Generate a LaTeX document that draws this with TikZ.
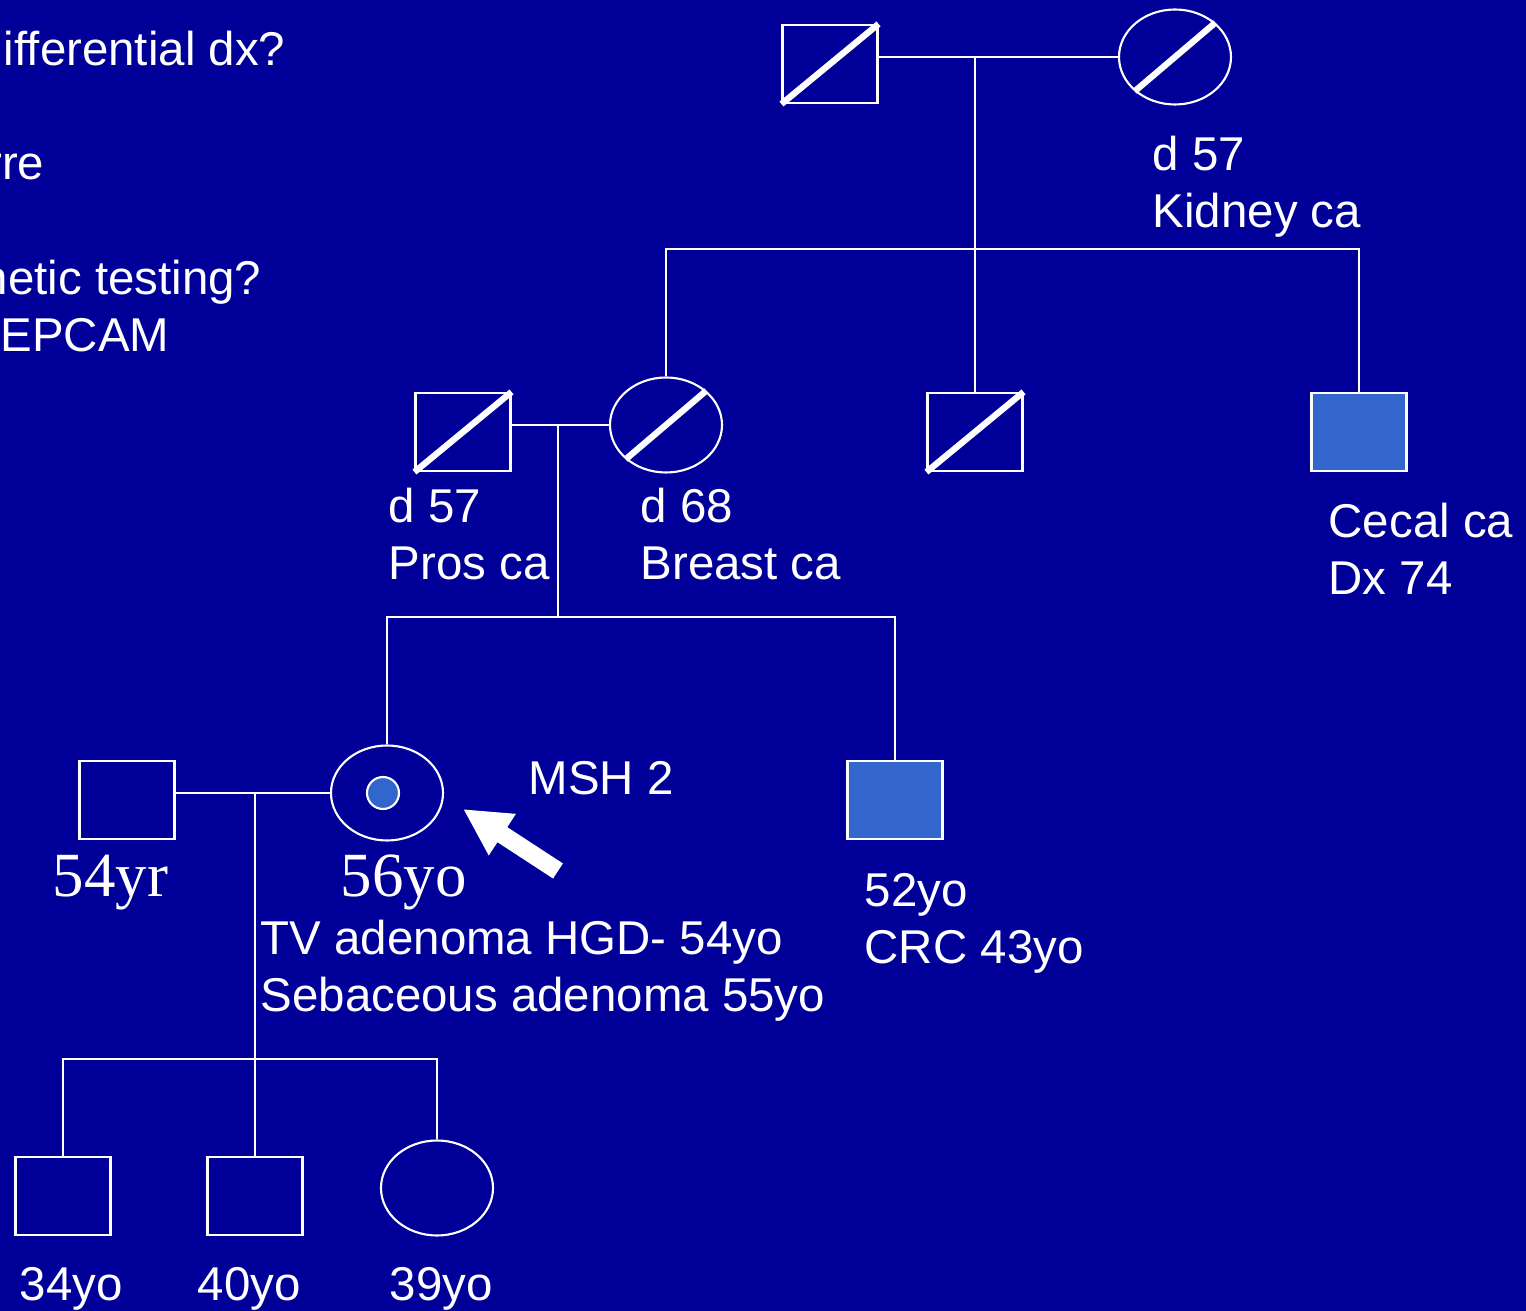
\documentclass[tikz,border=0pt]{standalone}
\usepackage{fontspec}
\setmainfont{Liberation Sans}
\newfontfamily\agefont{Liberation Serif}
\usetikzlibrary{arrows.meta,shapes.geometric}
\definecolor{bgblue}{RGB}{0,0,153}
\definecolor{affected}{RGB}{51,102,204}

\tikzset{
  male/.style={draw=white, line width=0.6pt, rectangle, minimum width=0.95cm, minimum height=0.78cm, inner sep=0pt},
  female/.style={draw=white, line width=0.6pt, ellipse, minimum width=1.12cm, minimum height=0.95cm, inner sep=0pt},
  sick/.style={fill=affected},
  dead/.style={white, line width=1.8pt},
  link/.style={white, line width=0.6pt},
  lbl/.style={text=white, font=\fontsize{13.5}{16.5}\selectfont, align=left, inner sep=0pt},
  agelbl/.style={text=white, font=\agefont\fontsize{17.9}{20}\selectfont, inner sep=0pt}
}

\begin{document}
\begin{tikzpicture}
    % Background
    \useasboundingbox (0,0) rectangle (15.26,-13.11);
    \fill[bgblue] (0,0) rectangle (15.26,-13.11);
    \clip (0,0) rectangle (15.26,-13.11);

    % Questions (cut at the left edge)
    \node[lbl, anchor=base east] (q1) at (2.86,-0.66) {ifferential dx?};
    \node[lbl, anchor=base east] (q2) at (0.45,-1.80) {rre};
    \node[lbl, anchor=base east] (q3) at (2.62,-2.95) {netic testing?};
    \node[lbl, anchor=base west] (q4) at (0.00,-3.52) {EPCAM};

    % Grandparents
    \node[male] (gf) at (8.30,-0.64) {};
    \node[female] (gm) at (11.75,-0.57) {};
    \draw[dead] (gf.south west) -- (gf.north east);
    \draw[dead] (gm.south west) -- (gm.north east);
    \coordinate (m1) at (9.75,-0.57);
    \coordinate (s1) at (9.75,-2.49);
    \draw[link] (gf.east |- gm.west) -- (gm.west);
    \draw[link] (m1) -- (s1);
    \node[lbl, anchor=base west] (gmtxt) at (11.52,-2.28) {d 57\\Kidney ca};

    % Parents, uncles
    \node[male] (fa) at (4.63,-4.32) {};
    \node[female] (mo) at (6.66,-4.25) {};
    \node[male] (un1) at (9.75,-4.32) {};
    \node[male, sick] (un2) at (13.59,-4.32) {};
    \draw[dead] (fa.south west) -- (fa.north east);
    \draw[dead] (mo.south west) -- (mo.north east);
    \draw[dead] (un1.south west) -- (un1.north east);
    \draw[link] (mo.north) |- (s1) -| (un2.north);
    \draw[link] (s1) -- (un1.north);
    \coordinate (m2) at (5.58,-4.25);
    \coordinate (s2) at (5.58,-6.17);
    \draw[link] (fa.east |- mo.west) -- (mo.west);
    \draw[link] (m2) -- (s2);
    \node[lbl, anchor=base west] (fatxt) at (3.88,-5.80) {d 57\\Pros ca};
    \node[lbl, anchor=base west] (motxt) at (6.40,-5.80) {d 68\\Breast ca};
    \node[lbl, anchor=base west] (un2txt) at (13.28,-5.95) {Cecal ca\\Dx 74};

    % Proband and brother
    \node[male] (hu) at (1.27,-8.00) {};
    \node[female] (pb) at (3.87,-7.93) {};
    \node[circle, draw=white, fill=affected, line width=0.6pt, minimum size=0.32cm, inner sep=0pt] (gene) at (3.83,-7.93) {};
    \node[male, sick] (br) at (8.95,-8.00) {};
    \draw[link] (pb.north) |- (s2) -| (br.north);
    \coordinate (m3) at (2.55,-7.93);
    \coordinate (s3) at (2.55,-10.59);
    \draw[link] (hu.east |- pb.west) -- (pb.west);
    \draw[link] (m3) -- (s3);
    \node[lbl, anchor=base west] (msh) at (5.28,-7.95) {MSH 2};
    \node[agelbl, anchor=base west] (hutxt) at (0.52,-8.97) {54yr};
    \node[agelbl, anchor=base west] (pbage) at (3.40,-8.97) {56yo};
    \node[lbl, anchor=base west] (pbtxt) at (2.60,-10.12) {TV adenoma HGD- 54yo\\Sebaceous adenoma 55yo};
    \node[lbl, anchor=base west] (brtxt) at (8.64,-9.64) {52yo\\CRC 43yo};

    % Arrow to proband
    \coordinate (atail) at (5.58,-8.71);
    \coordinate (atip) at (4.63,-8.09);
    \draw[white, line width=0.18cm, -{Triangle[length=0.47cm, width=0.46cm]}] (atail) -- (atip);

    % Children
    \node[male] (c1) at (0.63,-11.96) {};
    \node[male] (c2) at (2.55,-11.96) {};
    \node[female] (c3) at (4.37,-11.88) {};
    \draw[link] (c1.north) |- (s3) -| (c3.north);
    \draw[link] (s3) -- (c2.north);
    \node[lbl, anchor=base west] (c1txt) at (0.19,-13.00) {34yo};
    \node[lbl, anchor=base west] (c2txt) at (1.97,-13.00) {40yo};
    \node[lbl, anchor=base west] (c3txt) at (3.89,-13.00) {39yo};
\end{tikzpicture}
\end{document}
